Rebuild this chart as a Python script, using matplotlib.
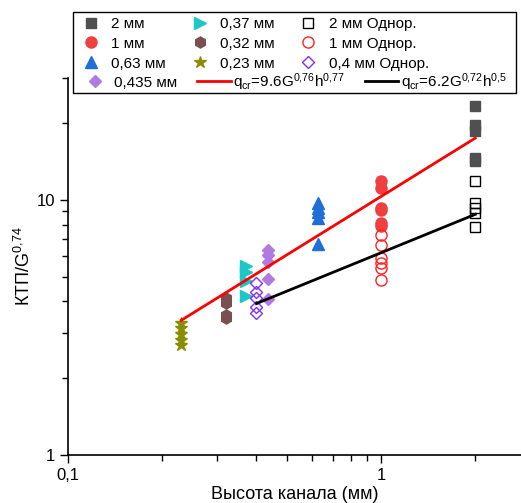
import numpy as np
import matplotlib
matplotlib.use('Agg')
import matplotlib.pyplot as plt
from matplotlib.patches import Rectangle
from matplotlib.ticker import FixedLocator, NullFormatter

plt.rcParams['font.family'] = ['Liberation Sans', 'DejaVu Sans']
plt.rcParams['mathtext.default'] = 'regular'

# filled markers (КТП/G^0.74 at each channel height)
h_2 = [2.0] * 5
y_2 = [23.3, 19.6, 18.6, 14.6, 14.2]
h_1 = [1.0] * 6
y_1 = [11.8, 11.1, 9.3, 9.1, 8.1, 7.9]
h_063 = [0.63] * 5
y_063 = [9.7, 9.3, 8.97, 8.5, 6.7]
h_0435 = [0.435] * 5
y_0435 = [6.37, 6.09, 5.71, 4.9, 4.09]
h_037 = [0.37] * 4
y_037 = [5.5, 5.2, 4.8, 4.2]
h_032 = [0.32] * 4
y_032 = [4.13, 3.95, 3.54, 3.45]
h_023 = [0.23] * 5
y_023 = [3.3, 3.15, 2.98, 2.82, 2.7]

# open markers (Однор.)
h_2o = [2.0] * 5
y_2o = [11.8, 9.7, 9.3, 8.9, 7.85]
h_1o = [1.0] * 6
y_1o = [7.3, 6.66, 5.93, 5.66, 5.41, 4.86]
h_04o = [0.4] * 5
y_04o = [4.73, 4.36, 4.13, 3.81, 3.6]

# fitted lines: q = a * h^b
red_fit = (10.3, 0.76, 0.23, 2.0)
black_fit = (6.2, 0.5, 0.4, 2.0)

fig = plt.figure(figsize=(5.21, 5.03), dpi=100)
ax = fig.add_axes([68 / 521, 48 / 503, 453 / 521, 377 / 503])

ms = 7
p2, = ax.plot(h_2, y_2, 's', color='#505050', ms=ms, ls='none', label='2 мм')
p1, = ax.plot(h_1, y_1, 'o', color='#ee4040', ms=ms + 1, ls='none', label='1 мм')
p063, = ax.plot(h_063, y_063, '^', color='#1f6fd6', ms=ms + 1, ls='none', label='0,63 мм')
p0435, = ax.plot(h_0435, y_0435, 'D', color='#b07ae0', ms=ms - 1, ls='none', label='0,435 мм')
p037, = ax.plot(h_037, y_037, '>', color='#1ec6c6', ms=ms + 1, ls='none', label='0,37 мм')
p032, = ax.plot(h_032, y_032, 'h', color='#7a4f4f', ms=ms + 1, ls='none', label='0,32 мм')
p023, = ax.plot(h_023, y_023, '*', color='#8c8c00', ms=ms + 2, ls='none', label='0,23 мм')
p2o, = ax.plot(h_2o, y_2o, 's', mfc='none', mec='black', ms=ms, ls='none', label='2 мм Однор.')
p1o, = ax.plot(h_1o, y_1o, 'o', mfc='none', mec='#ff2020', ms=ms + 1, ls='none', label='1 мм Однор.')
p04o, = ax.plot(h_04o, y_04o, 'D', mfc='none', mec='#8030ff', ms=ms - 1, ls='none', label='0,4 мм Однор.')

a, b, h0, h1 = red_fit
hh = np.array([h0, h1])
lred, = ax.plot(hh, a * hh ** b, color='red', lw=2, label=r'q$_{cr}$=9.6G$^{0{,}76}$h$^{0{,}77}$')
a, b, h0, h1 = black_fit
hh = np.array([h0, h1])
lblack, = ax.plot(hh, a * hh ** b, color='black', lw=2, label=r'q$_{cr}$=6.2G$^{0{,}72}$h$^{0{,}5}$')

ax.set_xscale('log')
ax.set_yscale('log')
ax.set_xlim(0.1, 2.8)
ax.set_ylim(1, 30)
ax.spines['top'].set_visible(False)
ax.spines['right'].set_visible(False)
ax.xaxis.set_major_locator(FixedLocator([0.1, 1]))
ax.set_xticklabels(['0,1', '1'])
ax.yaxis.set_major_locator(FixedLocator([1, 10]))
ax.set_yticklabels(['1', '10'])
ax.xaxis.set_minor_locator(FixedLocator([0.2, 0.3, 0.4, 0.5, 0.6, 0.7, 0.8, 0.9, 2]))
ax.yaxis.set_minor_locator(FixedLocator([2, 3, 4, 5, 6, 7, 8, 9, 20, 30]))
ax.xaxis.set_minor_formatter(NullFormatter())
ax.yaxis.set_minor_formatter(NullFormatter())
ax.tick_params(which='major', length=6, width=1, labelsize=12, direction='out')
ax.tick_params(which='minor', length=4, width=1, direction='out')
for s in ax.spines.values():
    s.set_linewidth(1.2)

ax.set_xlabel('Высота канала (мм)', fontsize=13, labelpad=2)
ax.set_ylabel('КТП/G$^{0{,}74}$', fontsize=13, labelpad=2)

# legend frame shared by two legend blocks
frame = Rectangle((73 / 521, 1 - 93 / 503), 443 / 521, 81 / 503, transform=fig.transFigure,
                  facecolor='white', edgecolor='black', lw=1.0, zorder=4)
fig.add_artist(frame)

top = [p2, p1, p063, p037, p032, p023, p2o, p1o, p04o]
fig.legend(top, [h.get_label() for h in top], ncol=3, loc='upper left',
           bbox_to_anchor=(80 / 521, 1 - 17 / 503), fontsize=11, frameon=False,
           handlelength=1.4, handletextpad=0.65, columnspacing=1.5,
           labelspacing=0.38, borderpad=0, borderaxespad=0)

bottom = [p0435, lred, lblack]
fig.legend(bottom, [h.get_label() for h in bottom], ncol=3, loc='upper left',
           bbox_to_anchor=(78 / 521, 1 - 71 / 503), fontsize=11, frameon=False,
           handlelength=2.2, handletextpad=0.15, columnspacing=1.3,
           borderpad=0, borderaxespad=0)

fig.savefig('out.png', dpi=100)
